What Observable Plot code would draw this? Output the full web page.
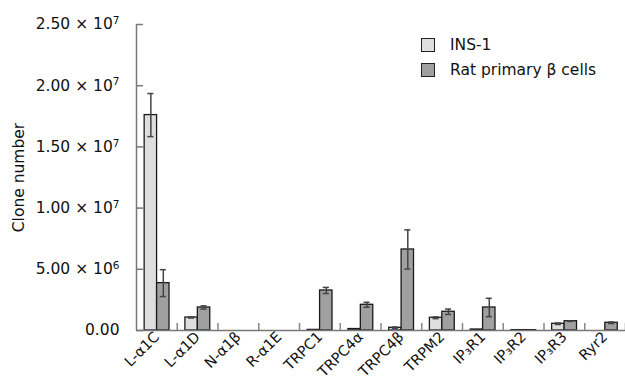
<!DOCTYPE html>
<html><head><meta charset="utf-8">
<script src="https://cdn.jsdelivr.net/npm/d3@7"></script>
<script src="https://cdn.jsdelivr.net/npm/@observablehq/plot@0.6"></script>
<style>
body{margin:0;background:#fff;}
#wrap{position:relative;width:625px;height:382px;font-family:"DejaVu Sans",sans-serif;color:#111;}
.item{position:absolute;left:421px;display:flex;align-items:center;height:20px;font-size:15.5px;white-space:nowrap;}
.sw{width:12px;height:12px;border:1.2px solid #222;margin-right:15px;}
</style></head>
<body>
<div id="wrap"></div>
<script>
const genes = ["L-α1C","L-α1D","N-α1β","R-α1E","TRPC1","TRPC4α","TRPC4β","TRPM2","IP₃R1","IP₃R2","IP₃R3","Ryr2"];
const seriesNames = ["INS-1","Rat primary β cells"];
const insValues = [17.6e6, 1.06e6, 0, 0, 0.05e6, 0.12e6, 0.22e6, 1.04e6, 0.08e6, 0.03e6, 0.55e6, 0];
const insErrors = [1.76e6, 0.04e6, 0, 0, 0, 0, 0.06e6, 0.07e6, 0, 0, 0.06e6, 0];
const ratValues = [3.87e6, 1.88e6, 0, 0, 3.27e6, 2.1e6, 6.62e6, 1.53e6, 1.88e6, 0.03e6, 0.76e6, 0.63e6];
const ratErrors = [1.1e6, 0.13e6, 0, 0, 0.25e6, 0.2e6, 1.6e6, 0.22e6, 0.75e6, 0, 0.02e6, 0.06e6];
const yTicks = [0, 5e6, 1e7, 1.5e7, 2e7, 2.5e7];
const yTickBases = ["0.00","5.00 × 10","1.00 × 10","1.50 × 10","2.00 × 10","2.50 × 10"];
const yTickExponents = ["", "6", "7", "7", "7", "7"];
const colors = ["#dedede", "#a0a0a0"];

const barStart = 0.2, barW = 0.305, capHalf = 0.075;
const rows = genes.flatMap((g, i) => [
  {gene: g, i, k: 0, series: seriesNames[0], value: insValues[i], err: insErrors[i]},
  {gene: g, i, k: 1, series: seriesNames[1], value: ratValues[i], err: ratErrors[i]}
]).map(d => ({...d, x1: d.i + barStart + d.k * barW, x2: d.i + barStart + (d.k + 1) * barW, xc: d.i + barStart + (d.k + 0.5) * barW}));
const bars = rows.filter(d => d.value > 0);
const errs = rows.filter(d => d.err > 0);

const chart = Plot.plot({
  width: 625, height: 382,
  marginLeft: 136, marginRight: 0, marginTop: 24, marginBottom: 52,
  style: {fontFamily: "'DejaVu Sans',sans-serif", fontSize: "15.5px", color: "#111", background: "#fff"},
  x: {domain: [0, genes.length], axis: null},
  y: {domain: [0, 2.5e7], axis: null},
  color: {domain: seriesNames, range: colors},
  marks: [
    Plot.rectY(bars, {x1: "x1", x2: "x2", y1: 0, y2: "value", fill: "series", stroke: "#1a1a1a", strokeWidth: 1.3}),
    Plot.ruleX(errs, {x: "xc", y1: d => d.value - d.err, y2: d => d.value + d.err, stroke: "#444", strokeWidth: 1.5}),
    Plot.ruleY(errs, {y: d => d.value + d.err, x1: d => d.xc - capHalf, x2: d => d.xc + capHalf, stroke: "#444", strokeWidth: 1.5}),
    Plot.ruleY(errs, {y: d => d.value - d.err, x1: d => d.xc - capHalf, x2: d => d.xc + capHalf, stroke: "#444", strokeWidth: 1.5}),
    Plot.ruleY([0], {stroke: "#777", strokeWidth: 1.5}),
    Plot.ruleX([0], {y1: 0, y2: 2.5e7, stroke: "#777", strokeWidth: 1.5}),
    Plot.axisY(yTicks, {tickSize: -7, tickFormat: () => "", stroke: "#777", strokeWidth: 1.5, label: null}),
    Plot.axisY(yTicks, {tickSize: 0, tickPadding: 17, tickFormat: d => yTickBases[yTicks.indexOf(d)] + "^" + yTickExponents[yTicks.indexOf(d)], fontSize: 15.5, label: "Clone number", labelAnchor: "center", labelOffset: 124, labelArrow: "none"}),
    Plot.axisX(d3.range(1, genes.length + 1), {tickSize: -7, tickFormat: () => "", stroke: "#888", strokeWidth: 1.5, label: null}),
    Plot.axisX(genes.map((g, i) => i + 0.5), {tickSize: 0, tickPadding: 4, tickRotate: -45, tickFormat: d => genes[Math.floor(d)], fontSize: 14.5, label: null})
  ]
});
// render exponents as raised tspans
chart.querySelectorAll("text").forEach(t => {
  const s = t.textContent;
  if (s.includes("^")) {
    const [base, exp] = s.split("^");
    t.textContent = base;
    if (exp) {
      const sup = document.createElementNS("http://www.w3.org/2000/svg", "tspan");
      sup.setAttribute("dy", "-0.5em");
      sup.setAttribute("font-size", "0.68em");
      sup.textContent = exp;
      t.appendChild(sup);
    }
  }
});
const wrap = document.getElementById("wrap");
wrap.appendChild(chart);
seriesNames.forEach((s, j) => {
  const it = document.createElement("div");
  it.className = "item";
  it.style.top = (35 + j * 25) + "px";
  const sw = document.createElement("div");
  sw.className = "sw";
  sw.style.background = colors[j];
  it.appendChild(sw);
  it.appendChild(document.createTextNode(s));
  wrap.appendChild(it);
});
</script>
</body></html>
